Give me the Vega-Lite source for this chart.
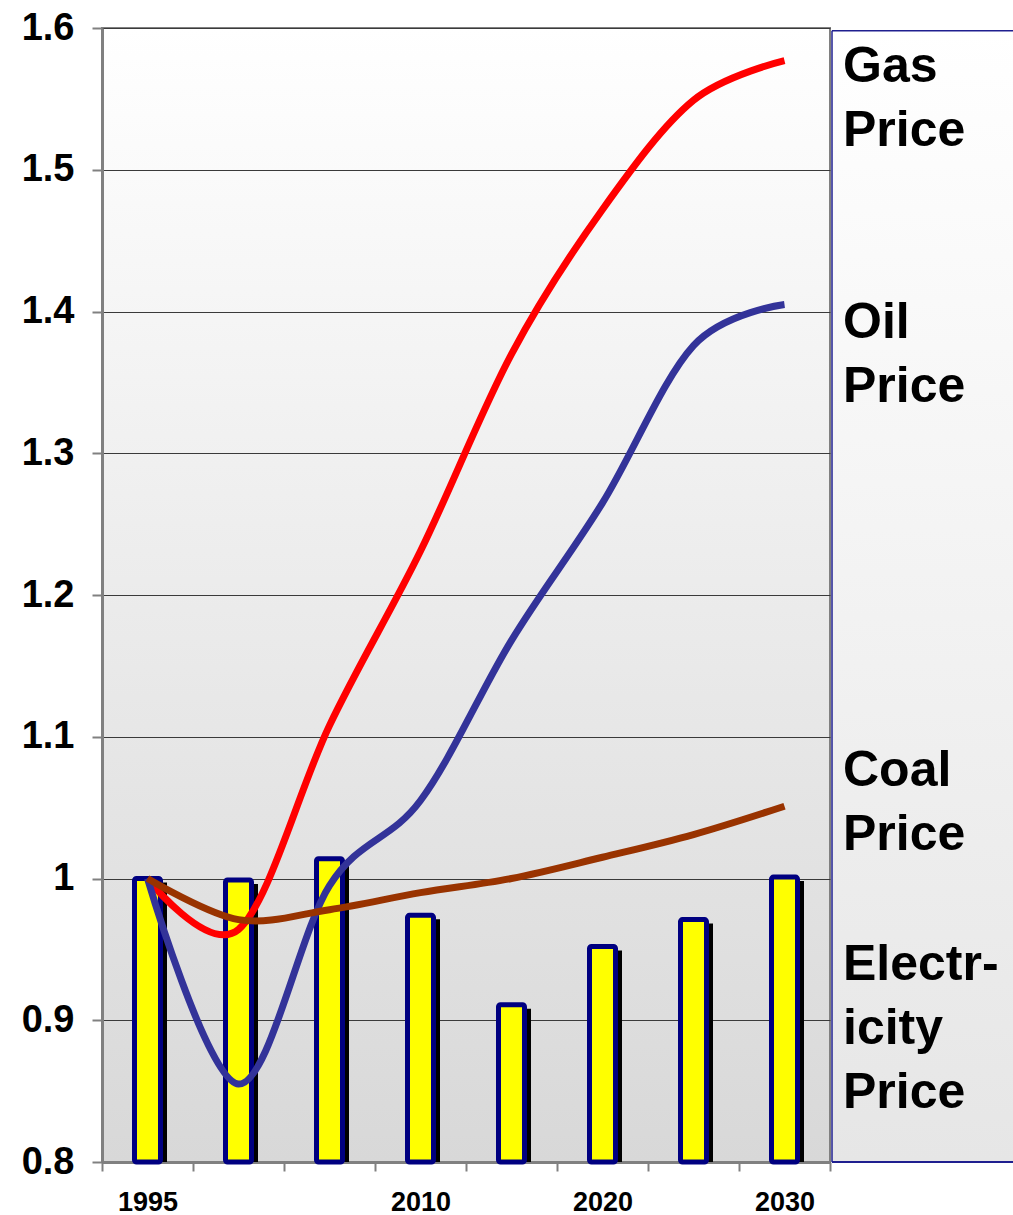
{
  "$schema": "https://vega.github.io/schema/vega-lite/v6.json",
  "autosize": {"type": "pad"},
  "padding": {"left": 20, "top": 8, "right": 0, "bottom": 0},
  "background": "#ffffff",
  "spacing": 2,
  "bounds": "flush",
  "datasets": {
    "bars": [
      {"year": 1995, "value": 1.0},
      {"year": 2000, "value": 0.999},
      {"year": 2005, "value": 1.014},
      {"year": 2010, "value": 0.974},
      {"year": 2015, "value": 0.911},
      {"year": 2020, "value": 0.952},
      {"year": 2025, "value": 0.971},
      {"year": 2030, "value": 1.001}
    ],
    "lines": [
      {"series": "Gas", "year": 1995, "value": 1.0},
      {"series": "Gas", "year": 2000, "value": 0.964},
      {"series": "Gas", "year": 2005, "value": 1.108},
      {"series": "Gas", "year": 2010, "value": 1.231},
      {"series": "Gas", "year": 2015, "value": 1.37},
      {"series": "Gas", "year": 2020, "value": 1.472},
      {"series": "Gas", "year": 2025, "value": 1.549},
      {"series": "Gas", "year": 2030, "value": 1.577},
      {"series": "Oil", "year": 1995, "value": 1.0},
      {"series": "Oil", "year": 2000, "value": 0.855},
      {"series": "Oil", "year": 2005, "value": 0.995},
      {"series": "Oil", "year": 2010, "value": 1.055},
      {"series": "Oil", "year": 2015, "value": 1.168},
      {"series": "Oil", "year": 2020, "value": 1.265},
      {"series": "Oil", "year": 2025, "value": 1.376},
      {"series": "Oil", "year": 2030, "value": 1.405},
      {"series": "Coal", "year": 1995, "value": 1.0},
      {"series": "Coal", "year": 2000, "value": 0.971},
      {"series": "Coal", "year": 2005, "value": 0.978},
      {"series": "Coal", "year": 2010, "value": 0.99},
      {"series": "Coal", "year": 2015, "value": 1.0},
      {"series": "Coal", "year": 2020, "value": 1.015},
      {"series": "Coal", "year": 2025, "value": 1.031},
      {"series": "Coal", "year": 2030, "value": 1.051}
    ],
    "labels": [
      {"label": "Gas\nPrice", "pos": 1.5619, "col": 0},
      {"label": "Oil\nPrice", "pos": 1.3813, "col": 0},
      {"label": "Coal\nPrice", "pos": 1.0653, "col": 0},
      {"label": "Electr-\nicity\nPrice", "pos": 0.9284, "col": 0}
    ],
    "frame": [
      {"col": 0, "top": 1.598, "bottom": 0.8}
    ]
  },
  "hconcat": [
    {
      "width": 728,
      "height": 1134,
      "view": {
        "fill": {"gradient": "linear", "x1": 0, "y1": 0, "x2": 0, "y2": 1,
                 "stops": [{"offset": 0, "color": "#ffffff"}, {"offset": 1, "color": "#d8d8d8"}]},
        "stroke": "#808080",
        "strokeWidth": 2
      },
      "layer": [
        {
          "data": {"name": "bars"},
          "mark": {"type": "bar", "color": "#000000", "size": 31, "xOffset": 4, "yOffset": 4},
          "encoding": {
            "x": {"field": "year", "type": "quantitative"},
            "y": {"field": "value", "type": "quantitative"},
            "y2": {"datum": 0.8}
          }
        },
        {
          "data": {"name": "bars"},
          "mark": {"type": "bar", "fill": "#ffff00", "stroke": "#000080", "strokeWidth": 5, "size": 26, "cornerRadius": 2},
          "encoding": {
            "x": {"field": "year", "type": "quantitative",
                  "scale": {"domain": [1992.5, 2032.5], "nice": false, "zero": false, "padding": 0},
                  "axis": {
                    "values": [1992.5, 1997.5, 2002.5, 2007.5, 2012.5, 2017.5, 2022.5, 2027.5, 2032.5],
                    "labelExpr": "datum.value == 1992.5 ? '1995' : datum.value == 2007.5 ? '2010' : datum.value == 2017.5 ? '2020' : datum.value == 2027.5 ? '2030' : ''",
                    "labelOffset": 45.5,
                    "labelFlush": false,
                    "labelOverlap": false,
                    "labelBound": false,
                    "labelFont": "Liberation Sans",
                    "labelFontWeight": "bold",
                    "labelFontSize": 27,
                    "labelColor": "#000000",
                    "labelPadding": 18,
                    "tickSize": 9,
                    "tickColor": "#808080",
                    "tickWidth": 2,
                    "domainColor": "#808080",
                    "domainWidth": 3,
                    "grid": false,
                    "title": null
                  }},
            "y": {"field": "value", "type": "quantitative",
                  "scale": {"domain": [0.8, 1.6], "nice": false, "zero": false},
                  "axis": {
                    "values": [0.8, 0.9, 1.0, 1.1, 1.2, 1.3, 1.4, 1.5, 1.6],
                    "format": ".2~f",
                    "labelFont": "Liberation Sans",
                    "labelFontWeight": "bold",
                    "labelFontSize": 38,
                    "labelColor": "#000000",
                    "labelPadding": 18,
                    "tickSize": 10,
                    "tickColor": "#808080",
                    "tickWidth": 2,
                    "domainColor": "#808080",
                    "domainWidth": 3,
                    "grid": true,
                    "gridColor": "#3a3a3a",
                    "gridWidth": 1,
                    "title": null
                  }},
            "y2": {"datum": 0.8}
          }
        },
        {
          "data": {"name": "lines"},
          "mark": {"type": "line", "interpolate": "cardinal", "strokeWidth": 7, "strokeCap": "butt", "strokeJoin": "round"},
          "encoding": {
            "x": {"field": "year", "type": "quantitative"},
            "y": {"field": "value", "type": "quantitative"},
            "color": {"field": "series", "type": "nominal",
                      "scale": {"domain": ["Coal", "Oil", "Gas"], "range": ["#993300", "#333399", "#ff0000"]},
                      "legend": null},
            "order": {"field": "year", "type": "quantitative"}
          }
        }
      ]
    },
    {
      "width": 181,
      "height": 1134,
      "view": {
        "fill": {"gradient": "linear", "x1": 0, "y1": 0, "x2": 0, "y2": 1,
                 "stops": [{"offset": 0, "color": "#ffffff"}, {"offset": 1, "color": "#e6e6e6"}]},
        "stroke": null
      },
      "layer": [
        {
          "data": {"name": "frame"},
          "mark": {"type": "rule", "color": "#1f1f8f", "strokeWidth": 1.5},
          "encoding": {
            "x": {"field": "col", "type": "quantitative", "scale": {"domain": [0, 1], "nice": false, "zero": false}, "axis": null},
            "y": {"field": "top", "type": "quantitative", "scale": {"domain": [0.8, 1.6], "nice": false, "zero": false}, "axis": null},
            "y2": {"field": "bottom"}
          }
        },
        {
          "data": {"name": "frame"},
          "mark": {"type": "rule", "color": "#1f1f8f", "strokeWidth": 1.5},
          "encoding": {
            "y": {"field": "top", "type": "quantitative"}
          }
        },
        {
          "data": {"name": "frame"},
          "mark": {"type": "rule", "color": "#1f1f8f", "strokeWidth": 2},
          "encoding": {
            "y": {"field": "bottom", "type": "quantitative"}
          }
        },
        {
          "data": {"name": "labels"},
          "mark": {"type": "text", "align": "left", "baseline": "alphabetic", "dx": 11,
                   "font": "Liberation Sans", "fontWeight": "bold", "fontSize": 50,
                   "lineBreak": "\n", "lineHeight": 64, "color": "#000000"},
          "encoding": {
            "x": {"field": "col", "type": "quantitative"},
            "y": {"field": "pos", "type": "quantitative"},
            "text": {"field": "label", "type": "nominal"}
          }
        }
      ]
    }
  ],
  "resolve": {"scale": {"x": "independent", "y": "independent", "color": "independent"}}
}
